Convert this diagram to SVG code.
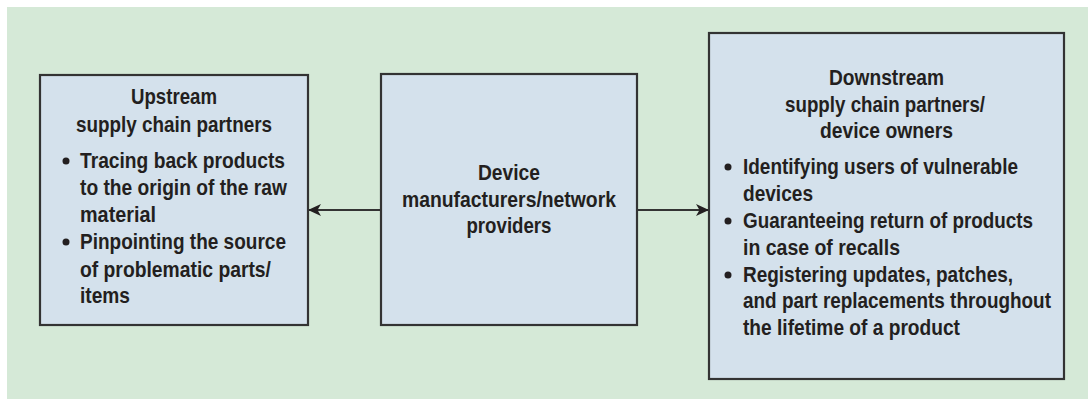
<svg xmlns="http://www.w3.org/2000/svg" width="1088" height="399" viewBox="0 0 1088 399">
  <style>
    .panel { fill: #d5e9d7; }
    .box { fill: #d4e1ec; stroke: #333333; stroke-width: 2.2; }
    .t { font-family: "Liberation Sans", Arial, sans-serif; font-weight: bold; font-size: 21.5px; fill: #231f20; }
    .c { text-anchor: middle; }
    .dot { fill: #231f20; }
    .link { fill: none; stroke: #333333; stroke-width: 2.2; }
  </style>
  <defs>
    <marker id="head" viewBox="0 0 13 12" refX="12" refY="6" markerWidth="13" markerHeight="12" markerUnits="userSpaceOnUse" orient="auto">
      <path d="M0,0 L13,6 L0,12 L3.5,6 Z" fill="#231f20"/>
    </marker>
  </defs>

  <rect class="panel" x="7" y="7" width="1081" height="392"/>

  <!-- connectors from the middle box outwards -->
  <g id="connectors">
    <line class="link" x1="381" y1="210" x2="309" y2="210" marker-end="url(#head)"/>
    <line class="link" x1="637" y1="210" x2="708" y2="210" marker-end="url(#head)"/>
  </g>

  <!-- labels use a condensed face: x coordinates below are divided by 0.82 -->
  <g id="upstream">
    <rect class="box" x="40" y="75" width="268" height="250"/>
    <circle class="dot" cx="66" cy="161" r="3.5"/>
    <circle class="dot" cx="66" cy="242" r="3.5"/>
    <g transform="scale(0.82,1)">
      <text class="t c" x="212.2" y="104" textLength="104.9" lengthAdjust="spacingAndGlyphs">Upstream</text>
      <text class="t c" x="212.2" y="132" textLength="239" lengthAdjust="spacingAndGlyphs">supply chain partners</text>
      <text class="t" x="97.56" y="168" textLength="250" lengthAdjust="spacingAndGlyphs">Tracing back products</text>
      <text class="t" x="97.56" y="195" textLength="252.4" lengthAdjust="spacingAndGlyphs">to the origin of the raw</text>
      <text class="t" x="97.56" y="222" textLength="92.7" lengthAdjust="spacingAndGlyphs">material</text>
      <text class="t" x="97.56" y="249" textLength="251.2" lengthAdjust="spacingAndGlyphs">Pinpointing the source</text>
      <text class="t" x="97.56" y="277" textLength="232.9" lengthAdjust="spacingAndGlyphs">of problematic parts/</text>
      <text class="t" x="97.56" y="303" textLength="61" lengthAdjust="spacingAndGlyphs">items</text>
    </g>
  </g>

  <g id="manufacturers">
    <rect class="box" x="381" y="74" width="256" height="251"/>
    <g transform="scale(0.82,1)">
      <text class="t c" x="620.7" y="180" textLength="75.6" lengthAdjust="spacingAndGlyphs">Device</text>
      <text class="t c" x="620.7" y="207" textLength="261" lengthAdjust="spacingAndGlyphs">manufacturers/network</text>
      <text class="t c" x="620.7" y="233" textLength="103.7" lengthAdjust="spacingAndGlyphs">providers</text>
    </g>
  </g>

  <g id="downstream">
    <rect class="box" x="709" y="33" width="355" height="346"/>
    <circle class="dot" cx="728" cy="167" r="3.5"/>
    <circle class="dot" cx="728" cy="221" r="3.5"/>
    <circle class="dot" cx="728" cy="275" r="3.5"/>
    <g transform="scale(0.82,1)">
      <text class="t c" x="1081.1" y="85" textLength="140.2" lengthAdjust="spacingAndGlyphs">Downstream</text>
      <text class="t c" x="1079.3" y="112" textLength="243.9" lengthAdjust="spacingAndGlyphs">supply chain partners/</text>
      <text class="t c" x="1081.1" y="138" textLength="162.2" lengthAdjust="spacingAndGlyphs">device owners</text>
      <text class="t" x="906.1" y="174" textLength="335.4" lengthAdjust="spacingAndGlyphs">Identifying users of vulnerable</text>
      <text class="t" x="906.1" y="201" textLength="85.4" lengthAdjust="spacingAndGlyphs">devices</text>
      <text class="t" x="906.1" y="228" textLength="353.7" lengthAdjust="spacingAndGlyphs">Guaranteeing return of products</text>
      <text class="t" x="906.1" y="255" textLength="191.5" lengthAdjust="spacingAndGlyphs">in case of recalls</text>
      <text class="t" x="906.1" y="282" textLength="329.3" lengthAdjust="spacingAndGlyphs">Registering updates, patches,</text>
      <text class="t" x="906.1" y="308" textLength="375.6" lengthAdjust="spacingAndGlyphs">and part replacements throughout</text>
      <text class="t" x="906.1" y="335" textLength="264.6" lengthAdjust="spacingAndGlyphs">the lifetime of a product</text>
    </g>
  </g>
</svg>
